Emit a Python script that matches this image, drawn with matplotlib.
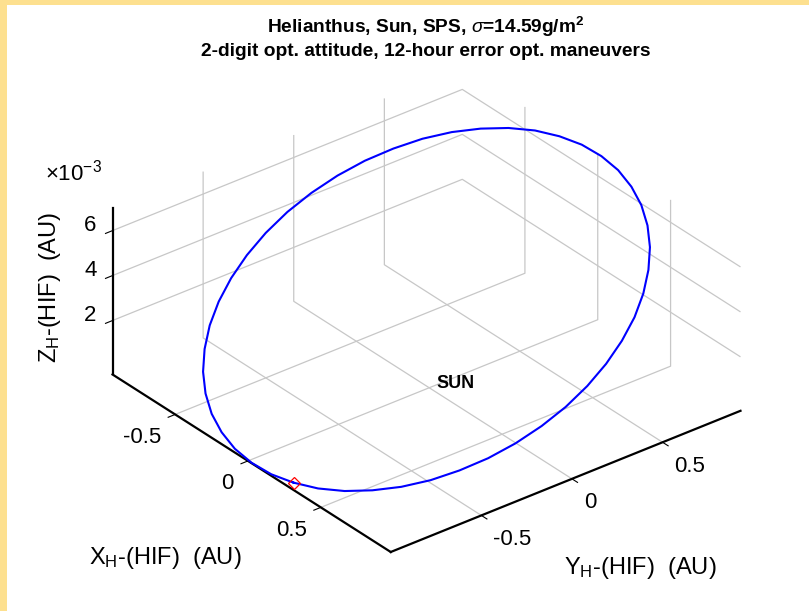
import matplotlib
matplotlib.use('Agg')
import matplotlib.pyplot as plt
from matplotlib.patches import Rectangle
from matplotlib.transforms import offset_copy

# orbit samples in HIF (AU), z in 1e-3 AU, starting at the red marker
x_orb = [0.272, 0.390, 0.503, 0.606, 0.700, 0.783, 0.852, 0.907, 0.947, 0.972, 0.980, 0.972,
         0.947, 0.907, 0.852, 0.783, 0.700, 0.606, 0.502, 0.390, 0.272, 0.150, 0.025, -0.100,
         -0.222, -0.340, -0.452, -0.556, -0.650, -0.733, -0.802, -0.857, -0.897, -0.922, -0.930, -0.922,
         -0.897, -0.857, -0.802, -0.733, -0.650, -0.556, -0.452, -0.340, -0.222, -0.100, 0.025, 0.150]
y_orb = [-0.967, -0.927, -0.871, -0.801, -0.717, -0.622, -0.518, -0.404, -0.285, -0.161, -0.035, 0.091,
         0.215, 0.334, 0.448, 0.552, 0.647, 0.731, 0.801, 0.857, 0.897, 0.922, 0.930, 0.922,
         0.897, 0.857, 0.801, 0.731, 0.647, 0.552, 0.447, 0.334, 0.215, 0.091, -0.035, -0.161,
         -0.285, -0.404, -0.517, -0.622, -0.717, -0.801, -0.871, -0.927, -0.967, -0.992, -1.000, -0.992]
z_orb = [-0.35, -0.25, -0.08, 0.15, 0.42, 0.75, 1.13, 1.53, 1.97, 2.44, 2.91, 3.40,
         3.88, 4.35, 4.80, 5.23, 5.63, 5.98, 6.29, 6.55, 6.75, 6.90, 6.98, 7.00,
         6.95, 6.85, 6.68, 6.45, 6.18, 5.85, 5.47, 5.07, 4.63, 4.16, 3.69, 3.20,
         2.72, 2.25, 1.80, 1.37, 0.97, 0.62, 0.31, 0.05, -0.15, -0.30, -0.38, -0.40]
sun = (0, 0, 0)

xlim = (-0.93, 0.98)
ylim = (-1.0, 0.93)
zlim = (-0.4, 7.0)
xticks = [-0.5, 0, 0.5]
yticks = [-0.5, 0, 0.5]
zticks = [2, 4, 6]
xticklabels = ['-0.5', '0', '0.5']
yticklabels = ['-0.5', '0', '0.5']
zticklabels = ['2', '4', '6']

plt.rcParams['font.family'] = 'Liberation Sans'
plt.rcParams['mathtext.fontset'] = 'custom'
plt.rcParams['mathtext.rm'] = 'Liberation Sans'
plt.rcParams['mathtext.it'] = 'Liberation Sans:italic'
plt.rcParams['mathtext.bf'] = 'Liberation Sans:bold'

W, H = 809, 611
fig = plt.figure(figsize=(W / 100, H / 100), dpi=100, facecolor='#fde08f')
fig.patches.append(Rectangle((7 / W, 0), 1, 1 - 5 / H, transform=fig.transFigure,
                             facecolor='white', edgecolor='none', zorder=-5))
ax = fig.add_axes([0.017, -0.02, 1, 1], projection='3d', proj_type='ortho')
ax.set_facecolor('none')
ax.view_init(elev=30.5, azim=-38.5)
ax.set_box_aspect((1, 1, 0.432), zoom=1.05)

ax.plot(x_orb + x_orb[:1], y_orb + y_orb[:1], z_orb + z_orb[:1], color='#0000ff', lw=1.5, zorder=5)
ax.plot(x_orb[:1], y_orb[:1], z_orb[:1], marker='D', mfc='none', mec='red', ms=6, mew=0.9, zorder=6)
ax.text(*sun, 'SUN', fontsize=13, fontweight='bold', va='center',
        transform=offset_copy(ax.transData, fig=fig, x=7, y=-5, units='dots'))

ax.set_xlim(*xlim)
ax.set_ylim(*ylim)
ax.set_zlim(*zlim)
ax.set_xticks(xticks)
ax.set_yticks(yticks)
ax.set_zticks(zticks)
ax.zaxis.set_ticks_position('lower')
for a in (ax.xaxis, ax.yaxis, ax.zaxis):
    a.set_pane_color((1, 1, 1, 0))
    a.pane.set_edgecolor('none')
    a._axinfo['grid'].update(color=(0.78, 0.78, 0.78), linewidth=0.9)
    a._axinfo['tick'].update(inward_factor=0.25, outward_factor=0)
    a.line.set_linewidth(1.6)
    a.set_tick_params(labelbottom=False)
    a.label.set_visible(False)
    a.get_offset_text().set_visible(False)
    for tk in a.get_major_ticks():
        tk.label1.set_visible(False)
        tk.label2.set_visible(False)

# tick labels placed MATLAB-style next to the axis edges
tr_x = offset_copy(ax.transData, fig=fig, x=-14, y=-23, units='dots')
tr_y = offset_copy(ax.transData, fig=fig, x=12, y=-24, units='dots')
tr_z = offset_copy(ax.transData, fig=fig, x=-16, y=5, units='dots')
for v, s in zip(xticks, xticklabels):
    ax.text(v, ylim[0], zlim[0], s, fontsize=16, ha='right', va='center', transform=tr_x)
for v, s in zip(yticks, yticklabels):
    ax.text(xlim[1], v, zlim[0], s, fontsize=16, ha='left', va='center', transform=tr_y)
for v, s in zip(zticks, zticklabels):
    ax.text(xlim[0], ylim[0], v, s, fontsize=16, ha='right', va='center', transform=tr_z)

fig.text(426 / W, 1 - 27 / H, r'Helianthus, Sun, SPS, $\sigma$=14.59g/m$^\mathbf{2}$',
         ha='center', va='center', fontsize=13.8, fontweight='bold')
fig.text(426 / W, 1 - 51 / H, '2-digit opt. attitude, 12-hour error opt. maneuvers',
         ha='center', va='center', fontsize=13.8, fontweight='bold')
fig.text(165 / W, 1 - 558 / H, r'X$_{\mathregular{H}}$-(HIF)  (AU)', ha='center', va='center', fontsize=17)
fig.text(640 / W, 1 - 568 / H, r'Y$_{\mathregular{H}}$-(HIF)  (AU)', ha='center', va='center', fontsize=17)
fig.text(50 / W, 1 - 287 / H, r'Z$_{\mathregular{H}}$-(HIF)  (AU)', ha='center', va='center',
         rotation=90, fontsize=17)
fig.text(45 / W, 1 - 173 / H, r'$\times$10$^{\mathregular{-3}}$', ha='left', va='center', fontsize=16)

fig.savefig('out.png', dpi=100, facecolor=fig.get_facecolor())
